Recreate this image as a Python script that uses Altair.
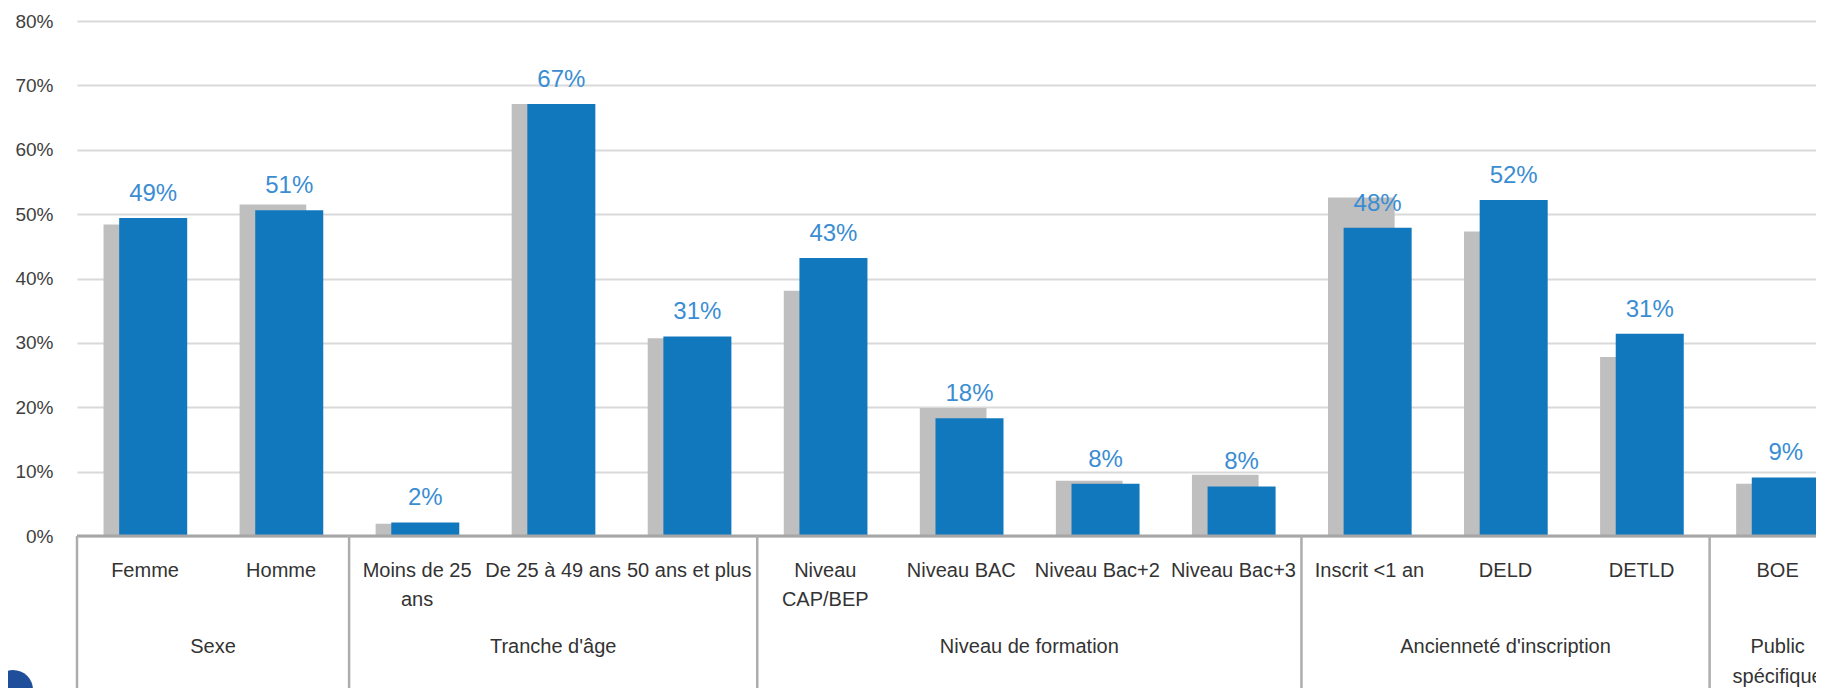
import altair as alt
import pandas as pd

categories = ["Femme", "Homme", "Moins de 25\nans", "De 25 à 49 ans", "50 ans et plus",
              "Niveau\nCAP/BEP", "Niveau BAC", "Niveau Bac+2", "Niveau Bac+3",
              "Inscrit <1 an", "DELD", "DETLD", "BOE"]
grey_values = [48.4, 51.5, 1.9, 67.1, 30.7, 38.1, 19.9, 8.6, 9.5, 52.6, 47.3, 27.8, 8.1]
blue_values = [49.4, 50.6, 2.1, 67.1, 31.0, 43.2, 18.3, 8.1, 7.7, 47.9, 52.2, 31.4, 9.1]

groups = ["Sexe", "Tranche d'âge", "Niveau de formation", "Ancienneté d'inscription", "Public\nspécifique"]
group_start = [0, 2, 5, 9, 12]
group_end = [2, 5, 9, 12, 13]

y_ticks = [0, 10, 20, 30, 40, 50, 60, 70, 80]

PLOT_W = 1739
PLOT_H = 515
SLOT = 136.05
FONT = "Liberation Sans"

df = pd.DataFrame({
    "idx": list(range(len(categories))),
    "cat": categories,
    "grey": grey_values,
    "blue": blue_values,
})
gdf = pd.DataFrame({"group": groups, "start": group_start, "end": group_end})

xscale = alt.Scale(domain=[0, PLOT_W / SLOT], nice=False, zero=False)
yscale = alt.Scale(domain=[0, 80], nice=False)

base = alt.Chart(df).transform_calculate(
    gx0="datum.idx + 0.195",
    gx1="datum.idx + 0.685",
    bx0="datum.idx + 0.31",
    bx1="datum.idx + 0.81",
    bc="datum.idx + 0.56",
    cc="datum.idx + 0.5",
    lbl="format(datum.blue, '.0f') + '%'",
)

grey = base.mark_rect(color="#BFBFBF").encode(
    x=alt.X("gx0:Q", scale=xscale, axis=None),
    x2="gx1:Q",
    y=alt.Y("grey:Q", scale=yscale,
            axis=alt.Axis(values=y_ticks, labelExpr="datum.value + '%'", title=None,
                          domain=False, ticks=False, labelPadding=24,
                          labelFont=FONT, labelFontSize=19, labelColor="#404040",
                          grid=True, gridColor="#D9D9D9", gridWidth=2)),
    y2=alt.datum(0),
)

blue = base.mark_rect(color="#1278BE").encode(
    x=alt.X("bx0:Q", scale=xscale, axis=None),
    x2="bx1:Q",
    y=alt.Y("blue:Q", scale=yscale),
    y2=alt.datum(0),
)

labels = base.mark_text(font=FONT, fontSize=24, color="#3A8DD3", baseline="alphabetic",
                        align="center", dy=-17).encode(
    x=alt.X("bc:Q", scale=xscale),
    y=alt.Y("blue:Q", scale=yscale),
    text="lbl:N",
)

baseline_rule = alt.Chart(pd.DataFrame({"v": [0]})).mark_rule(
    color="#A6A6A6", strokeWidth=3).encode(y=alt.Y("v:Q", scale=yscale))

cat_labels = base.mark_text(font=FONT, fontSize=20, color="#333333", baseline="middle",
                            align="center", lineBreak="\n", lineHeight=29).encode(
    x=alt.X("cc:Q", scale=xscale),
    y=alt.value(PLOT_H + 35),
    text="cat:N",
)

sep = alt.Chart(gdf).mark_rule(color="#ADADAD", strokeWidth=2.5).encode(
    x=alt.X("start:Q", scale=xscale),
    y=alt.value(PLOT_H),
    y2=alt.value(PLOT_H + 200),
)

grp_labels = alt.Chart(gdf).transform_calculate(
    mid="(datum.start + datum.end) / 2"
).mark_text(font=FONT, fontSize=20, color="#333333", baseline="middle", align="center",
            lineBreak="\n", lineHeight=30).encode(
    x=alt.X("mid:Q", scale=xscale),
    y=alt.value(PLOT_H + 111),
    text="group:N",
)

deco = alt.Chart(pd.DataFrame({"d": [1]})).mark_circle(
    color="#1F4E9A", opacity=1, size=1600).encode(
    x=alt.value(-64),
    y=alt.value(PLOT_H + 154),
)

chart = alt.layer(
    grey, blue, baseline_rule, labels, sep, cat_labels, grp_labels, deco
).properties(
    width=PLOT_W,
    height=PLOT_H,
    autosize=alt.AutoSizeParams(type="none"),
    padding={"left": 69, "top": 13, "right": 0, "bottom": 152},
    background="white",
).configure_view(stroke=None)

chart.save("out.html", embed_options={"renderer": "svg", "actions": False})
